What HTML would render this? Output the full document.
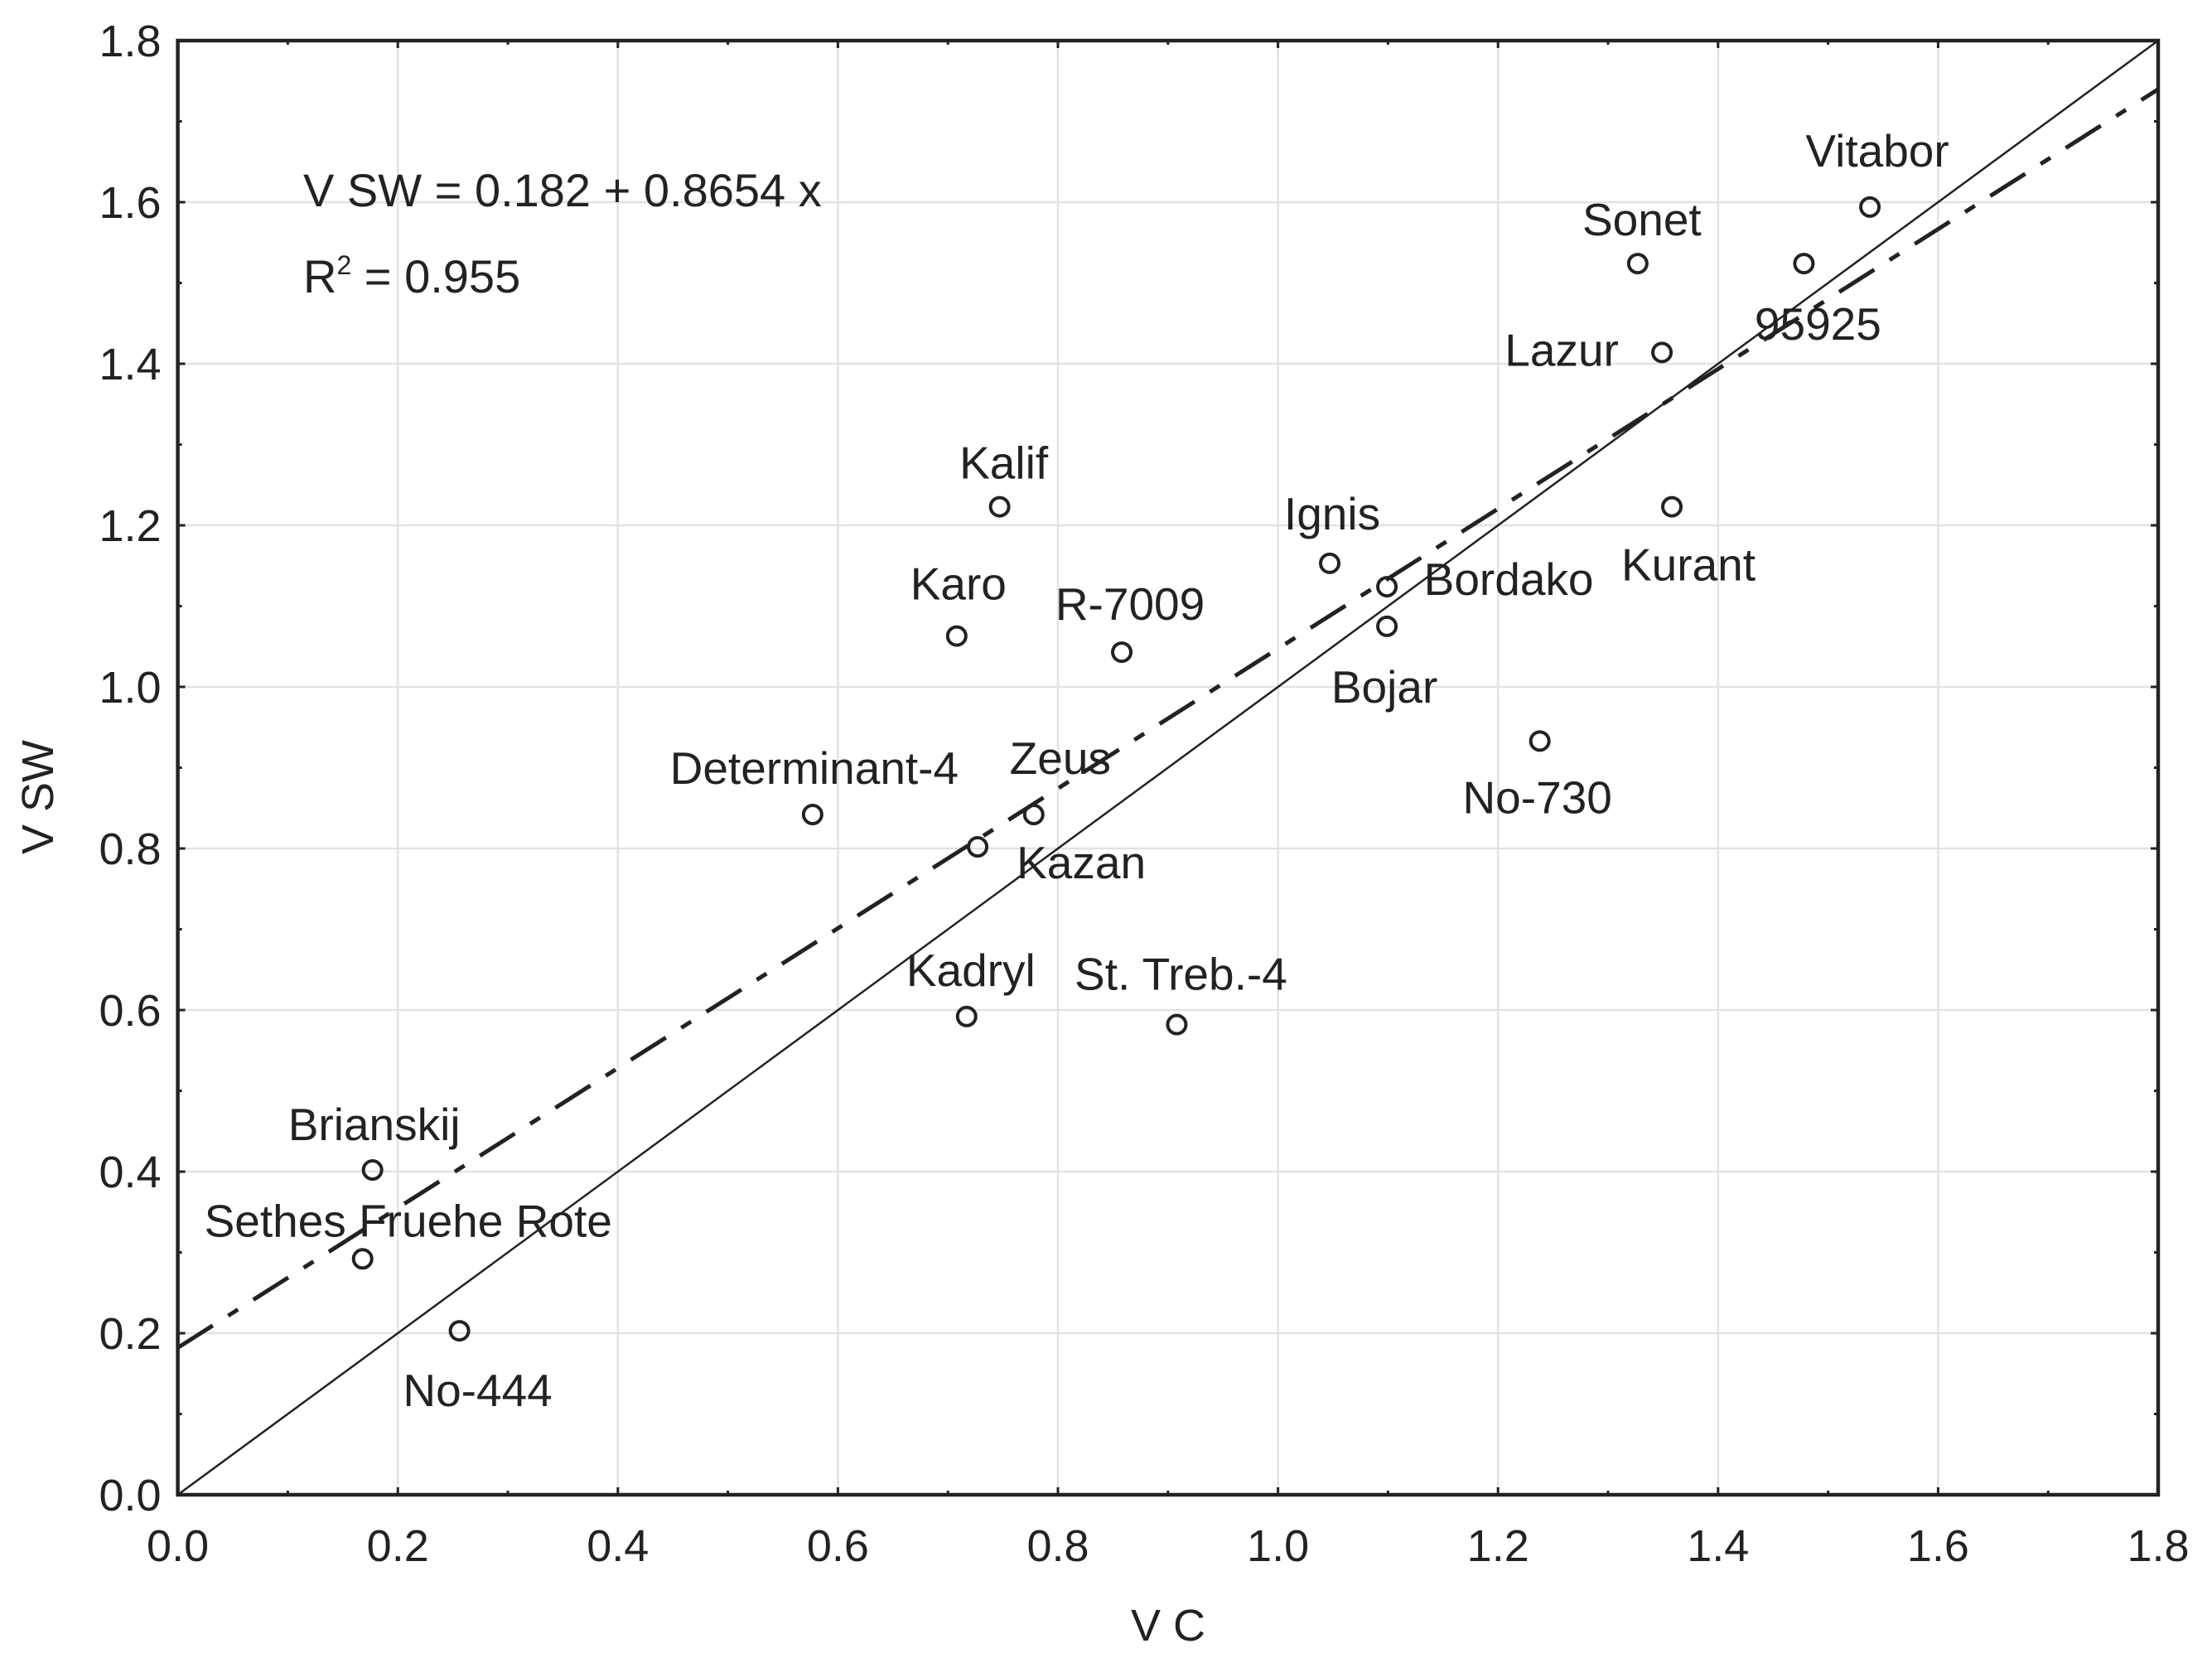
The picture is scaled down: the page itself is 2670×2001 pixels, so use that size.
<!DOCTYPE html>
<html><head><meta charset="utf-8"><style>
html,body{margin:0;padding:0;background:#fff;}
svg{display:block;font-family:"Liberation Sans",sans-serif;}
</style></head><body>
<svg id="chart" width="2670" height="2001" viewBox="0 0 2670 2001" xmlns="http://www.w3.org/2000/svg">
<g id="grid"></g>
<g id="lines"></g>
<g id="points"></g>
<g id="frame"></g>
<text x="366" y="249" font-size="56" fill="#222">V SW = 0.182 + 0.8654 x</text>
<text x="366" y="353" font-size="56" fill="#222">R<tspan font-size="32" dy="-22">2</tspan><tspan dy="22"> = 0.955</tspan></text>
<text x="1410" y="1980" font-size="54" text-anchor="middle" fill="#222">V C</text>
<text transform="translate(64,962) rotate(-90)" font-size="54" text-anchor="middle" fill="#222">V SW</text>
</svg>
<script>
const names=["Vitabor","Sonet","95925","Lazur","Kurant","Ignis","Bordako","Bojar","No-730","Kalif","Karo","R-7009","Determinant-4","Zeus","Kazan","Kadryl","St. Treb.-4","Brianskij","Sethes Fruehe Rote","No-444"];
const vc=[1.538,1.327,1.478,1.349,1.358,1.047,1.099,1.099,1.238,0.747,0.708,0.858,0.577,0.778,0.727,0.717,0.908,0.177,0.168,0.256];
const vsw=[1.594,1.524,1.524,1.414,1.223,1.153,1.124,1.075,0.933,1.223,1.063,1.043,0.842,0.842,0.802,0.592,0.582,0.402,0.292,0.203];
const ticks=[0,0.2,0.4,0.6,0.8,1.0,1.2,1.4,1.6,1.8];
const tickLabels=["0.0","0.2","0.4","0.6","0.8","1.0","1.2","1.4","1.6","1.8"];
const fitIntercept=0.182, fitSlope=0.8654;
// label offsets (px) relative to the point, layout only
const ldx=[9,5,17,-121,20,3,147,-3,-3,5,2,10,2,32,125,5,5,2,55,22];
const ldy=[-68,-53,73,-3,70,-60,-9,73,68,-53,-63,-58,-56,-68,19,-56,-61,-55,-46,72];
const L=214.6,R=2605,T=49,B=1804,MAX=1.8;
const sx=v=>L+(R-L)*v/MAX, sy=v=>B-(B-T)*v/MAX;
const NS="http://www.w3.org/2000/svg";
function mk(tag,attrs,parent){const e=document.createElementNS(NS,tag);for(const k in attrs)e.setAttribute(k,attrs[k]);parent.appendChild(e);return e;}
const grid=document.getElementById('grid'),frame=document.getElementById('frame'),lines=document.getElementById('lines'),pts=document.getElementById('points');
ticks.forEach((t,i)=>{
  if(i>0&&i<ticks.length-1){
    const gx=mk('line',{x1:sx(t),x2:sx(t),y1:T,y2:B,stroke:'#e2e2e2','stroke-width':2.5},grid);
    
    
    const gy=mk('line',{x1:L,x2:R,y1:sy(t),y2:sy(t),stroke:'#e2e2e2','stroke-width':2.5},grid);
    
    
  }
  const xl=mk('text',{x:sx(t),y:B+80,'font-size':54,'text-anchor':'middle',fill:'#222'},frame);xl.textContent=tickLabels[i];
  
  
  const yl=mk('text',{x:L-20,y:sy(t)+19,'font-size':54,'text-anchor':'end',fill:'#222'},frame);yl.textContent=tickLabels[i];
  
  
  mk('line',{x1:sx(t),x2:sx(t),y1:B,y2:B-9,stroke:'#222','stroke-width':3},frame);
  mk('line',{x1:sx(t),x2:sx(t),y1:T,y2:T+9,stroke:'#222','stroke-width':3},frame);
  mk('line',{x1:L,x2:L+9,y1:sy(t),y2:sy(t),stroke:'#222','stroke-width':3},frame);
  mk('line',{x1:R,x2:R-9,y1:sy(t),y2:sy(t),stroke:'#222','stroke-width':3},frame);
  if(i<ticks.length-1){const m=t+0.1;
    mk('line',{x1:sx(m),x2:sx(m),y1:B,y2:B-5,stroke:'#222','stroke-width':3},frame);
    mk('line',{x1:sx(m),x2:sx(m),y1:T,y2:T+5,stroke:'#222','stroke-width':3},frame);
    mk('line',{x1:L,x2:L+5,y1:sy(m),y2:sy(m),stroke:'#222','stroke-width':3},frame);
    mk('line',{x1:R,x2:R-5,y1:sy(m),y2:sy(m),stroke:'#222','stroke-width':3},frame);}
});
const fr=mk('rect',{x:L,y:T,width:R-L,height:B-T,fill:'none',stroke:'#222','stroke-width':4.5},frame);


const idl=mk('line',{x1:sx(0),y1:sy(0),x2:sx(MAX),y2:sy(MAX),stroke:'#222','stroke-width':2.5},lines);


const fl=mk('line',{x1:sx(0),y1:sy(fitIntercept),x2:sx(MAX),y2:sy(fitIntercept+fitSlope*MAX),stroke:'#222','stroke-width':5,'stroke-dasharray':'50 22 14 22'},lines);


names.forEach((n,i)=>{
  const x=sx(vc[i]),y=sy(vsw[i]);
  const c=mk('circle',{cx:x,cy:y,r:11,fill:'none',stroke:'#222','stroke-width':4},pts);
  
  
  const t=mk('text',{x:x+ldx[i],y:y+ldy[i]+19,'font-size':55,'text-anchor':'middle',fill:'#222'},pts);
  t.textContent=n;
  
  
});
</script>
</body></html>
